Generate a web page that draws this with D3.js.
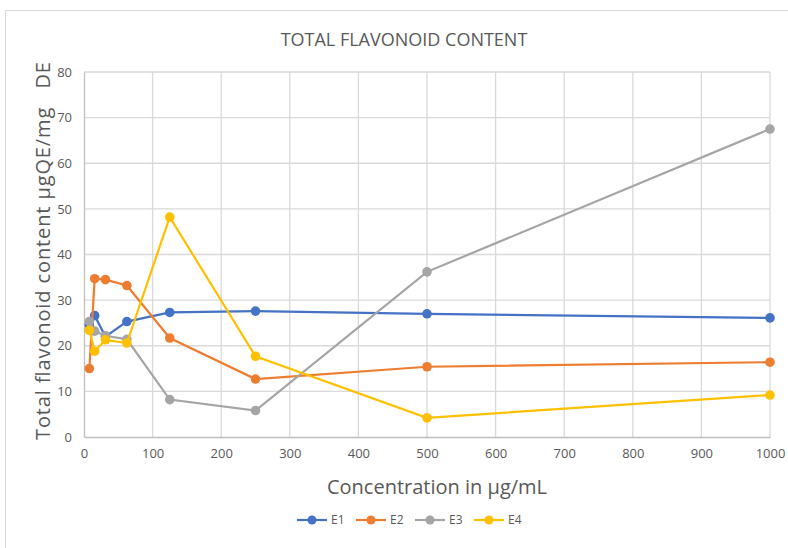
<!DOCTYPE html>
<html>
<head>
<meta charset="utf-8">
<script src="https://cdn.jsdelivr.net/npm/d3@7"></script>
<style>
  body { margin: 0; background: #fff; }
  svg { font-family: 'Open Sans', 'Noto Sans', sans-serif; }
</style>
</head>
<body>
<svg width="788" height="548"></svg>
<script>
const concentrations = [7.8, 15.6, 31.25, 62.5, 125, 250, 500, 1000];
const seriesNames = ['E1', 'E2', 'E3', 'E4'];
const e1 = [24.6, 26.6, 22.0, 25.3, 27.3, 27.6, 27.0, 26.1];
const e2 = [15.0, 34.7, 34.5, 33.2, 21.7, 12.7, 15.4, 16.4];
const e3 = [25.3, 23.2, 22.2, 21.4, 8.2, 5.8, 36.2, 67.5];
const e4 = [23.4, 18.8, 21.3, 20.6, 48.2, 17.7, 4.2, 9.2];
const xTicks = [0, 100, 200, 300, 400, 500, 600, 700, 800, 900, 1000];
const yTicks = [0, 10, 20, 30, 40, 50, 60, 70, 80];
const colors = ['#4472C4', '#ED7D31', '#A5A5A5', '#FFC000'];

const series = [e1, e2, e3, e4].map((vals, i) => ({
    name: seriesNames[i],
    values: vals.map((v, j) => ({ x: concentrations[j], y: v }))
}));

const svg = d3.select('svg');
const margin = { left: 84, right: 18, top: 72, bottom: 111 };
const width = +svg.attr('width');
const height = +svg.attr('height');

// chart frame
svg.append('rect')
    .attr('x', 5.5).attr('y', 10.5)
    .attr('width', 790).attr('height', 545)
    .attr('fill', 'none').attr('stroke', '#d9d9d9');

const xScale = d3.scaleLinear().domain([0, 1000]).range([margin.left, width - margin.right]);
const yScale = d3.scaleLinear().domain([0, 80]).range([height - margin.bottom, margin.top]);

// grid
svg.append('g').selectAll('line').data(yTicks.slice(1))
    .enter().append('line')
    .attr('x1', xScale(0)).attr('x2', xScale(1000))
    .attr('y1', d => yScale(d)).attr('y2', d => yScale(d))
    .attr('stroke', '#d9d9d9').attr('stroke-width', 1.3);
svg.append('g').selectAll('line').data(xTicks.slice(1))
    .enter().append('line')
    .attr('x1', d => xScale(d)).attr('x2', d => xScale(d))
    .attr('y1', yScale(0)).attr('y2', yScale(80))
    .attr('stroke', '#d9d9d9').attr('stroke-width', 1.3);

// axes
const xAxis = svg.append('g')
    .attr('transform', `translate(0,${yScale(0)})`)
    .call(d3.axisBottom(xScale).tickValues(xTicks).tickFormat(d3.format('d'))
        .tickSize(0).tickPadding(12));
const yAxis = svg.append('g')
    .attr('transform', `translate(${xScale(0)},0)`)
    .call(d3.axisLeft(yScale).tickValues(yTicks).tickSize(0).tickPadding(12));
[xAxis, yAxis].forEach(a => {
    a.select('.domain').attr('stroke', '#bfbfbf').attr('stroke-width', 1.3);
    a.selectAll('text').attr('fill', '#595959').style('font-size', '13px')
        .style('font-family', "'Open Sans', sans-serif");
});

// lines
const line = d3.line().x(d => xScale(d.x)).y(d => yScale(d.y));
const seriesG = svg.append('g').selectAll('g').data(series)
    .enter().append('g');
seriesG.append('path')
    .attr('d', d => line(d.values))
    .attr('fill', 'none')
    .attr('stroke', (d, i) => colors[i])
    .attr('stroke-width', 2.2);
seriesG.each(function (s, i) {
    d3.select(this).selectAll('circle').data(s.values)
        .enter().append('circle')
        .attr('cx', d => xScale(d.x))
        .attr('cy', d => yScale(d.y))
        .attr('r', 4.8)
        .attr('fill', colors[i]);
});

// titles
svg.append('text')
    .attr('x', 404).attr('y', 46)
    .attr('text-anchor', 'middle')
    .attr('fill', '#595959')
    .style('font-size', '18px')
    .text('TOTAL FLAVONOID CONTENT');

svg.append('text')
    .attr('x', 437).attr('y', 494)
    .attr('text-anchor', 'middle')
    .attr('fill', '#595959')
    .style('font-size', '20px')
    .text('Concentration in µg/mL');

svg.append('text')
    .attr('transform', `translate(50,251) rotate(-90)`)
    .attr('text-anchor', 'middle')
    .attr('fill', '#595959')
    .style('font-size', '20px')
    .style('white-space', 'pre')
    .attr('textLength', 378)
    .attr('lengthAdjust', 'spacing')
    .text('Total flavonoid content µgQE/mg   DE');

// legend
const legendX = [297, 356, 415, 474];
const legend = svg.append('g').selectAll('g').data(series)
    .enter().append('g')
    .attr('transform', (d, i) => `translate(${legendX[i]},520)`);
legend.append('line')
    .attr('x1', 0).attr('x2', 30)
    .attr('stroke', (d, i) => colors[i]).attr('stroke-width', 2.2);
legend.append('circle')
    .attr('cx', 15).attr('r', 4.5)
    .attr('fill', (d, i) => colors[i]);
legend.append('text')
    .attr('x', 34).attr('dy', '0.35em')
    .attr('fill', '#595959')
    .style('font-size', '12px')
    .text(d => d.name);
</script>
</body>
</html>
